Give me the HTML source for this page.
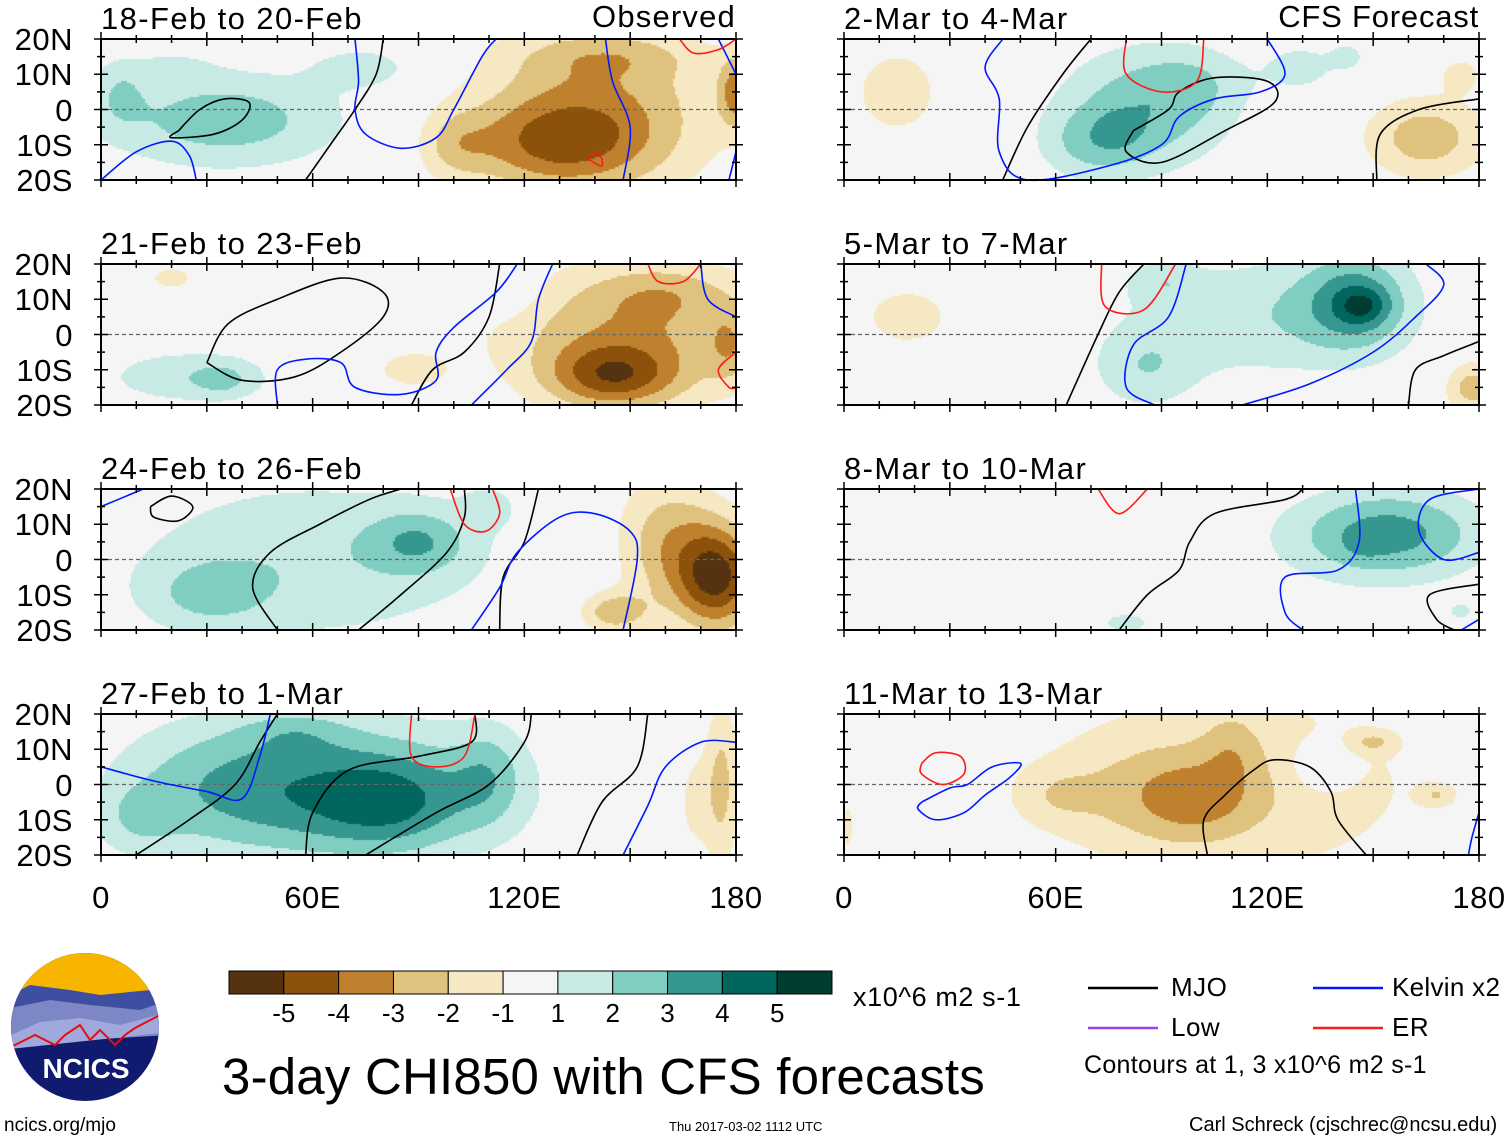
<!DOCTYPE html>
<html><head><meta charset="utf-8">
<style>
body{margin:0;background:#fff;width:1510px;height:1142px;overflow:hidden;position:relative;font-family:"Liberation Sans",Arial,sans-serif;}
.t{position:absolute;white-space:nowrap;color:#000;line-height:1;}
canvas{position:absolute;}
svg{position:absolute;left:0;top:0;}
</style></head>
<body>
<svg id="svg" width="1510" height="1142"></svg>
<div id="labels"></div>

<div class="t" style="left:853px;top:984px;font-size:27px;letter-spacing:0.6px">x10^6 m2 s-1</div>
<div class="t" style="left:222px;top:1051px;font-size:51px;letter-spacing:0.2px">3-day CHI850 with CFS forecasts</div>
<div class="t" style="left:4px;top:1116px;font-size:19px">ncics.org/mjo</div>
<div class="t" style="left:669px;top:1120px;font-size:13px">Thu 2017-03-02 1112 UTC</div>
<div class="t" style="left:1189px;top:1115px;font-size:20px">Carl Schreck (cjschrec@ncsu.edu)</div>
<div class="t" style="left:1171px;top:974px;font-size:26px;letter-spacing:0.5px">MJO</div>
<div class="t" style="left:1171px;top:1014px;font-size:26px;letter-spacing:0.5px">Low</div>
<div class="t" style="left:1392px;top:974px;font-size:26px;letter-spacing:0.3px">Kelvin x2</div>
<div class="t" style="left:1392px;top:1014px;font-size:26px;letter-spacing:0.5px">ER</div>
<div class="t" style="left:1084px;top:1053px;font-size:25px;letter-spacing:0.3px">Contours at 1, 3 x10^6 m2 s-1</div>

<script>
const levelColors=["#553310","#8c510a","#bf812d","#dfc27d","#f6e8c3","#f5f5f5","#c7eae5","#80cdc1","#35978f","#01665e","#003c30"];
const levelBounds=[-5,-4,-3,-2,-1,1,2,3,4,5];
const colorbarLabels=["-5","-4","-3","-2","-1","1","2","3","4","5"];
const panelTitles=["18-Feb to 20-Feb","21-Feb to 23-Feb","24-Feb to 26-Feb","27-Feb to 1-Mar","2-Mar to 4-Mar","5-Mar to 7-Mar","8-Mar to 10-Mar","11-Mar to 13-Mar"];
const latTicks=["20N","10N","0","10S","20S"];
const lonTicks=["0","60E","120E","180"];
// blobs: [lon, lat, amplitude, lonWidth, latWidth]
const blobs1=[[140,0,-3,35,25],[128,-10,-2.5,25,12],[100,-10,-1.5,10,10],[145,15,-1,25,6],[180,5,-3,5,10],[35,-3,2.6,35,14],[5,5,1.3,8,10],[75,12,1.5,15,6],[20,12,0.8,12,5]];
const blobs2=[[150,0,-2.8,40,20],[145,-12,-3.3,18,9],[160,12,-1.2,20,8],[178,-3,-1.5,6,10],[88,-10,-1.6,10,5],[20,16,-1.4,8,4],[25,-12,1.8,25,8],[35,-13,1.0,8,5],[112,13,1.6,10,7]];
const blobs3=[[60,0,1.8,55,25],[90,5,2.0,14,9],[30,-10,1.5,18,10],[110,15,1.0,8,6],[175,-5,-5,12,15],[160,5,-2.5,15,20],[145,-15,-2.5,10,6]];
const blobs4=[[70,-2,3.5,45,20],[82,-6,1.6,20,12],[30,0,1.5,30,20],[110,3,1.5,10,14],[10,-10,1.2,12,10],[55,15,1.0,15,6],[176,0,-2.3,5,25],[168,-5,-1.3,5,15]];
const blobs5=[[85,0,2.6,25,18],[70,-10,1.5,15,10],[100,8,1.0,15,10],[78,-6,0.6,6,5],[130,12,1.3,12,8],[143,15,1.2,5,4],[15,5,-1.5,15,15],[165,-8,-2.6,18,12],[175,10,-1.4,6,5]];
const blobs6=[[145,10,2.8,15,14],[147,8,1.8,7,5],[120,5,1.8,40,18],[85,-10,1.6,15,12],[90,15,1.2,10,6],[18,5,-1.5,15,10],[178,-15,-2.5,8,8]];
const blobs7=[[155,8,2.3,25,12],[147,4,0.5,6,4],[150,5,1.3,35,15],[80,-18,1.3,10,4],[175,-15,1.0,6,4]];
const blobs8=[[110,0,-1.8,60,30],[90,-3,-1.3,25,14],[100,-5,-1.0,14,10],[110,10,-1.0,8,12],[60,-3,-1.0,12,8],[135,5,1.2,10,8],[150,12,-1.4,6,3],[168,-3,-1.4,5,3],[1,-12,-1.4,2,8]];
const panelBlobs=[blobs1,blobs2,blobs3,blobs4,blobs5,blobs6,blobs7,blobs8];
const mjo=[
 [[[58,-20],[65,-10],[72,0],[78,10],[80,20]],[[22,-6],[28,0],[35,3],[42,2],[40,-3],[32,-7],[20,-8],[22,-6]]],
 [[[30,-8],[36,3],[50,10],[68,16],[80,12],[80,5],[68,-5],[55,-12],[40,-13],[30,-8]],[[88,-20],[94,-10],[103,-5],[110,5],[113,20]]],
 [[[50,-20],[43,-8],[48,2],[62,10],[76,17],[85,20]],[[73,-20],[85,-10],[98,2],[103,12],[103,20]],[[113,-20],[114,-5],[120,5],[124,20]],[[14,15],[20,18],[26,15],[22,11],[15,12],[14,15]]],
 [[[10,-20],[25,-10],[38,0],[45,12],[50,20]],[[58,-20],[60,-8],[70,4],[90,8],[105,12],[106,20]],[[75,-20],[95,-8],[110,0],[120,12],[122,20]],[[135,-20],[142,-5],[152,5],[155,20]]],
 [[[45,-20],[52,-5],[62,10],[70,20]],[[82,-6],[92,0],[95,5],[105,9],[120,8],[122,2],[108,-6],[90,-15],[80,-12],[82,-6]],[[151,-20],[152,-7],[163,0],[180,3]]],
 [[[63,-20],[72,0],[78,12],[85,20]],[[160,-20],[162,-10],[170,-6],[180,-2]]],
 [[[78,-20],[86,-10],[95,-3],[98,5],[105,13],[125,17],[130,20]],[[180,-7],[166,-10],[168,-17],[173,-20]]],
 [[[103,-20],[102,-10],[108,-3],[116,4],[122,7],[132,5],[138,-2],[140,-10],[148,-20]]]
];
const kelvin=[
 [[[0,-20],[10,-12],[20,-9],[25,-13],[27,-20]],[[72,20],[73,8],[72,0],[75,-7],[85,-11],[95,-8],[100,0],[108,15],[112,20]],[[143,20],[145,8],[150,-5],[148,-20]],[[175,20],[180,10]],[[180,-12],[178,-20]]],
 [[[50,-20],[50,-10],[58,-7],[68,-8],[72,-15],[85,-17],[95,-13],[95,-5],[100,2],[112,12],[118,20]],[[105,-20],[115,-10],[122,-2],[124,10],[128,20]],[[170,20],[172,10],[180,5]]],
 [[[0,15],[12,20]],[[105,-20],[113,-8],[118,2],[130,12],[140,13],[150,8],[152,0],[148,-20]]],
 [[[0,5],[15,1],[30,-2],[40,-4],[45,8],[48,20]],[[148,-20],[155,-6],[160,5],[170,12],[180,12]]],
 [[[45,20],[40,12],[44,3],[44,-12],[52,-20],[75,-16],[90,-10],[95,-2],[105,3],[118,5],[125,10],[120,20]]],
 [[[97,20],[92,5],[82,-3],[80,-15],[88,-20]],[[113,-20],[132,-14],[150,-5],[162,5],[170,14],[165,20]]],
 [[[145,20],[146,5],[140,-3],[125,-5],[125,-15],[130,-20]],[[180,20],[166,17],[163,8],[170,0],[180,2]],[[175,-20],[180,-17]]],
 [[[22,-5],[30,-1],[35,0],[42,5],[50,6],[47,2],[40,-3],[34,-8],[26,-10],[21,-7],[22,-5]],[[180,-8],[178,-15],[177,-20]]]
];
const er=[
 [[[164,20],[168,16],[175,17],[180,20]],[[138,-14],[142,-16],[141,-12],[138,-14]]],
 [[[155,20],[158,15],[165,15],[170,20]],[[180,-5],[175,-10],[178,-15],[180,-15]]],
 [[[99,20],[103,10],[109,8],[113,13],[111,20]]],
 [[[88,20],[88,8],[95,5],[103,8],[106,20]]],
 [[[80,20],[80,10],[90,5],[100,8],[102,20]]],
 [[[73,20],[74,8],[85,7],[94,20]]],
 [[[72,20],[78,13],[86,20]]],
 [[[22,6],[26,9],[33,8],[34,3],[28,0],[22,3],[22,6]]]
];
const S='http://www.w3.org/2000/svg';
const svg=document.getElementById('svg');
const PW=635,PH=141;
const pX=[101,101,101,101,844,844,844,844];
const pY=[39,264,489,714,39,264,489,714];
function xs(p,lon){return pX[p]+lon/180*PW;}
function ys(p,lat){return pY[p]+(20-lat)/40*PH;}
function levelIndex(v){let i=0;while(i<levelBounds.length&&v>=levelBounds[i])i++;return i;}
function field(bl,lon,lat){let v=0;for(const b of bl){const dx=(lon-b[0])/b[3],dy=(lat-b[1])/b[4];v+=b[2]*Math.exp(-(dx*dx+dy*dy));}return v;}
function el(t,a,parent){const e=document.createElementNS(S,t);for(const k in a)e.setAttribute(k,a[k]);(parent||svg).appendChild(e);return e;}
function smooth(pts){let d='M'+pts[0][0]+','+pts[0][1];
 for(let i=0;i<pts.length-1;i++){const p0=pts[i-1]||pts[i],p1=pts[i],p2=pts[i+1],p3=pts[i+2]||p2;
  const c1=[p1[0]+(p2[0]-p0[0])/6,p1[1]+(p2[1]-p0[1])/6],c2=[p2[0]-(p3[0]-p1[0])/6,p2[1]-(p3[1]-p1[1])/6];
  d+=' C'+c1[0]+','+c1[1]+' '+c2[0]+','+c2[1]+' '+p2[0]+','+p2[1];}return d;}
function txt(x,y,s,size,anchor,name,ls){const d=document.createElement('div');d.className='t';d.textContent=s;d.style.fontSize=size+'px';
 if(ls)d.style.letterSpacing=ls+'px';
 d.style.top=y+'px';if(anchor==='end'){d.style.right=(1510-x)+'px';}else if(anchor==='middle'){d.style.left=(x-200)+'px';d.style.width='400px';d.style.textAlign='center';}else d.style.left=x+'px';
 
 
 document.getElementById('labels').appendChild(d);}
for(let p=0;p<8;p++){
 const c=document.createElement('canvas');c.width=PW;c.height=PH;c.style.left=pX[p]+'px';c.style.top=pY[p]+'px';
 
 
 document.body.insertBefore(c,svg);
 const ctx=c.getContext('2d');const step=2;
 for(let x=0;x<PW;x+=step)for(let y=0;y<PH;y+=step){
  const lon=(x+1)/PW*180,lat=20-(y+1)/PH*40;
  ctx.fillStyle=levelColors[levelIndex(field(panelBlobs[p],lon,lat))];ctx.fillRect(x,y,step,step);}
 const g=el('g',{});
 
 
 el('line',{x1:xs(p,0),x2:xs(p,180),y1:ys(p,0),y2:ys(p,0),stroke:'#666','stroke-width':1.3,'stroke-dasharray':'4,3'},g);
 const sets=[[mjo[p],'#000'],[kelvin[p],'#0019ff'],[er[p],'#ff1a1a']];
 for(const [lines,col] of sets)for(const ln of lines){
  const pl=el('path',{d:smooth(ln.map(q=>[xs(p,q[0]),ys(p,q[1])])),fill:'none',stroke:col,'stroke-width':1.6,'stroke-linejoin':'round'},g);
  
  }
 el('rect',{x:pX[p],y:pY[p],width:PW,height:PH,fill:'none',stroke:'#000','stroke-width':2},g);
 for(let lon=0;lon<=180;lon+=10){const L=lon%30===0?7:4;
  el('line',{x1:xs(p,lon),x2:xs(p,lon),y1:pY[p]-L,y2:pY[p]+L,stroke:'#000','stroke-width':1.5},g);
  el('line',{x1:xs(p,lon),x2:xs(p,lon),y1:pY[p]+PH-L,y2:pY[p]+PH+L,stroke:'#000','stroke-width':1.5},g);}
 for(let lat=-20;lat<=20;lat+=5){const L=lat%10===0?7:4;
  el('line',{x1:pX[p]-L,x2:pX[p]+L,y1:ys(p,lat),y2:ys(p,lat),stroke:'#000','stroke-width':1.5},g);
  el('line',{x1:pX[p]+PW-L,x2:pX[p]+PW+L,y1:ys(p,lat),y2:ys(p,lat),stroke:'#000','stroke-width':1.5},g);}
 txt(pX[p],pY[p]-36,panelTitles[p],31,'start','panel-title',1.4);
 if(p<4)latTicks.forEach((s,i)=>txt(73,ys(p,20-i*10)-15,s,31,'end','y-tick-label',0.5));
 if(p===3||p===7)lonTicks.forEach((s,i)=>txt(xs(p,i*60),882,s,31,'middle','x-tick-label',0.5));
}
txt(736,1,'Observed',31,'end','observed-label',1.2);
txt(1479,1,'CFS Forecast',31,'end','forecast-label',0.8);
const cb=el('g',{});
const cbx=229,cbw=603/11;
levelColors.forEach((c,i)=>el('rect',{x:cbx+i*cbw,y:971,width:cbw,height:23,fill:c,stroke:'#000','stroke-width':1},cb));
colorbarLabels.forEach((s,i)=>txt(cbx+(i+1)*cbw,1000,s,26,'middle','colorbar-label'));
[[1088,988,'#000'],[1088,1028,'#9b3ff0'],[1313,988,'#0019ff'],[1313,1028,'#ff1a1a']].forEach(a=>{
 const l=el('line',{x1:a[0],x2:a[0]+70,y1:a[1],y2:a[1],stroke:a[2],'stroke-width':2.5});
 });
const lg=el('g',{});
el('defs',{},lg).innerHTML='<clipPath id="cc"><circle cx="85" cy="1027" r="74"/></clipPath>';
const lc=el('g',{'clip-path':'url(#cc)'},lg);
el('rect',{x:0,y:950,width:170,height:160,fill:'#101a6e'},lc);
el('rect',{x:0,y:950,width:170,height:45,fill:'#f7b500'},lc);
el('polygon',{points:'0,1000 30,985 70,990 100,995 150,990 170,985 170,1030 0,1040',fill:'#3e4ea0'},lc);
el('polygon',{points:'0,1010 50,1000 90,1005 140,1010 170,1000 170,1035 0,1045',fill:'#7d87c6'},lc);
el('polygon',{points:'0,1040 40,1022 80,1018 120,1025 158,1015 170,1010 170,1032 0,1050',fill:'#a0a8dc'},lc);
el('polyline',{points:'0,1050 15,1045 35,1035 45,1040 55,1045 65,1035 80,1025 90,1040 100,1030 115,1045 125,1035 135,1028 160,1015 170,1010',fill:'none',stroke:'#e01010','stroke-width':2},lc);
const lt=el('text',{x:86,y:1078,'text-anchor':'middle','font-size':28,'font-weight':'bold',fill:'#fff','font-family':'Liberation Sans, sans-serif'},lg);lt.textContent='NCICS';
</script>
</body></html>
